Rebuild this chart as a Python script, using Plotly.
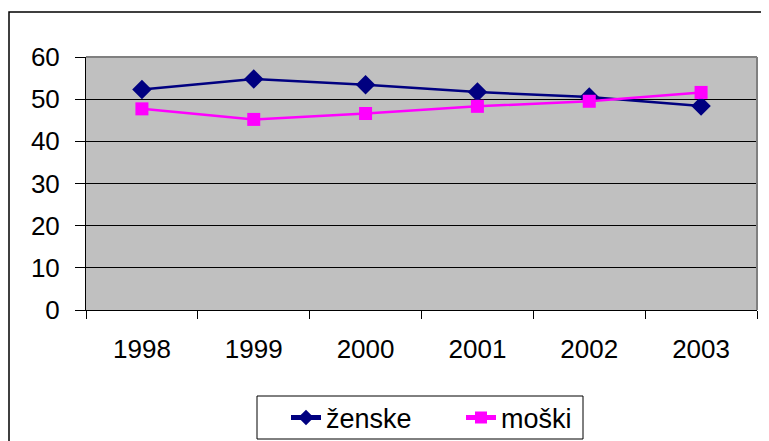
import plotly.graph_objects as go

years = ["1998", "1999", "2000", "2001", "2002", "2003"]
zenske = [52.3, 54.8, 53.4, 51.7, 50.5, 48.4]
moski = [47.7, 45.2, 46.6, 48.3, 49.5, 51.6]
y_ticks = [0, 10, 20, 30, 40, 50, 60]

# page has an 8px body margin: compensate so the figure fills the window
OFF = 8
W, H = 769 - OFF, 441 - OFF
L, R, T, B = 86 - OFF, 12, 57 - OFF, 131
pw, ph = W - L - R, H - T - B

def px_x(x):  # page x -> paper
    return (x - OFF - L) / pw

def px_y(y):  # page y -> paper
    return (H - B - (y - OFF)) / ph

fig = go.Figure()
fig.add_trace(go.Scatter(
    x=years, y=zenske, name="ženske", mode="lines+markers",
    line=dict(color="#000080", width=2.5),
    marker=dict(symbol="diamond", size=15, color="#000080"),
))
fig.add_trace(go.Scatter(
    x=years, y=moski, name="moški", mode="lines+markers",
    line=dict(color="#FF00FF", width=2.5),
    marker=dict(symbol="square", size=13, color="#FF00FF"),
))

font = "Liberation Sans, Arial, sans-serif"
FS = 26
fig.update_layout(
    width=W, height=H,
    margin=dict(l=L, r=R, t=T, b=B, autoexpand=False),
    paper_bgcolor="white",
    plot_bgcolor="#C0C0C0",
    font=dict(family=font, size=FS, color="black"),
    showlegend=True,
    legend=dict(
        orientation="h", x=px_x(286), xanchor="left",
        y=px_y(418), yanchor="middle",
        bgcolor="rgba(0,0,0,0)", borderwidth=0,
        font=dict(size=27, family=font),
        itemsizing="constant", entrywidth=130,
    ),
    xaxis=dict(
        type="category", range=[-0.5, len(years) - 0.5],
        showgrid=False, zeroline=False, automargin=False,
        showline=True, linecolor="black", linewidth=1,
        ticks="outside", ticklen=8, tickcolor="black",
        tickson="boundaries", ticklabelstandoff=16,
        tickfont=dict(size=FS, family=font),
    ),
    yaxis=dict(
        range=[0, 60], tickvals=y_ticks, showgrid=True, automargin=False,
        gridcolor="black", gridwidth=1, zeroline=False,
        showline=True, linecolor="black", linewidth=1,
        ticks="outside", ticklen=10, tickcolor="black",
        ticklabelstandoff=10,
        tickfont=dict(size=FS, family=font),
    ),
    shapes=[
        # chart-area border
        dict(type="rect", xref="paper", yref="paper",
             x0=px_x(9), x1=px_x(768), y0=px_y(445), y1=px_y(12),
             line=dict(color="black", width=1.5), fillcolor="rgba(0,0,0,0)",
             layer="below"),
        # plot-area border (top/right)
        dict(type="line", xref="paper", yref="paper",
             x0=0, x1=1, y0=1, y1=1, line=dict(color="#808080", width=2)),
        dict(type="line", xref="paper", yref="paper",
             x0=1, x1=1, y0=0, y1=1, line=dict(color="#808080", width=2)),
        # legend box
        dict(type="rect", xref="paper", yref="paper",
             x0=px_x(257), x1=px_x(583), y0=px_y(439), y1=px_y(396),
             line=dict(color="black", width=1), fillcolor="white",
             layer="above"),
    ],
)

fig.write_html("out.html")
